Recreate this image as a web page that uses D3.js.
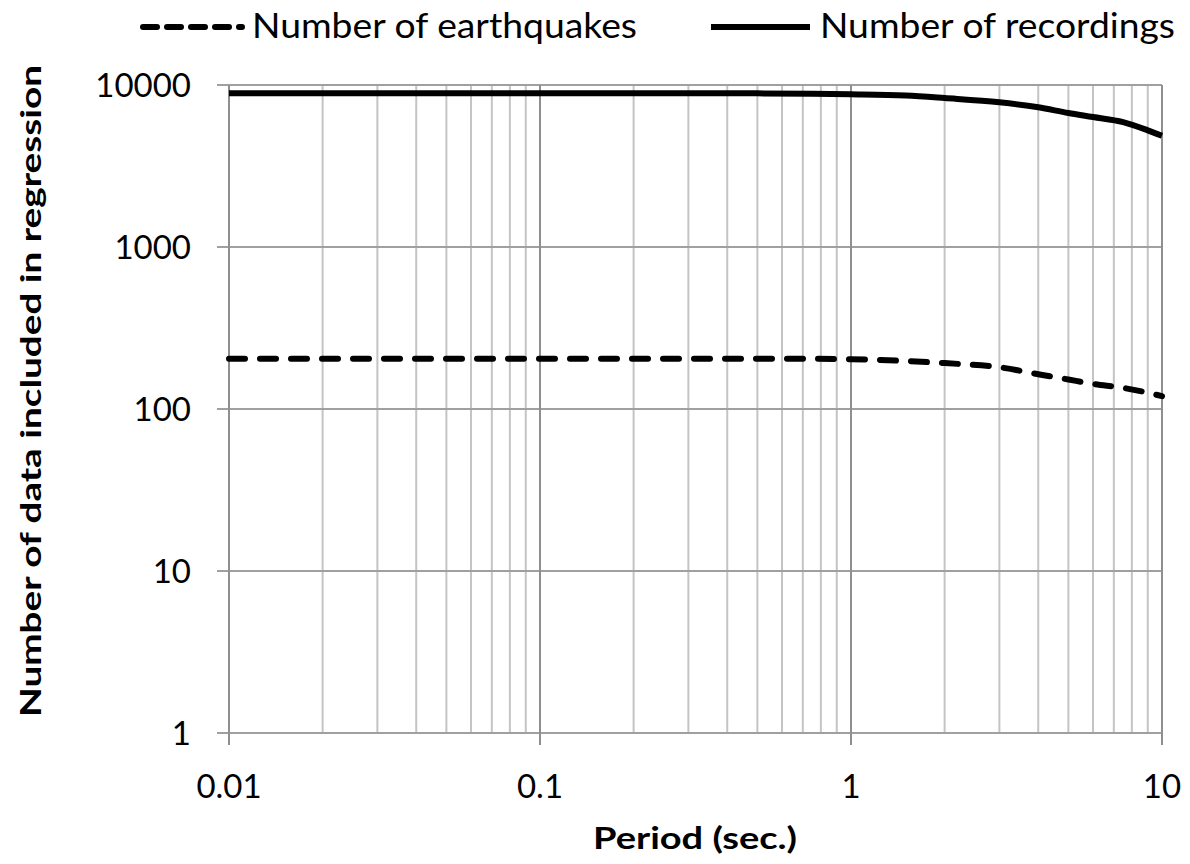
<!DOCTYPE html>
<html>
<head>
<meta charset="utf-8">
<script src="https://cdn.jsdelivr.net/npm/d3@7"></script>
<style>
  body { margin: 0; background: #fff; }
  svg { display: block; font-family: Lato, "Open Sans", sans-serif; }
</style>
</head>
<body>
<svg id="chart" width="1190" height="864"></svg>
<script>
//Periods (sec.)
const periods = [0.01, 0.02, 0.03, 0.05, 0.075, 0.1, 0.15, 0.2, 0.3, 0.4, 0.5, 0.75, 1, 1.5, 2, 3, 4, 5, 6, 7.5, 9, 10];
//Number of earthquakes per period
const earthquakes = [204, 204, 204, 204, 204, 204, 204, 204, 204, 204, 204, 204, 203, 198, 192, 181, 164, 152, 143, 135, 126, 120];
//Number of recordings per period
const recordings = [8900, 8900, 8900, 8900, 8900, 8900, 8900, 8900, 8900, 8900, 8880, 8840, 8770, 8600, 8300, 7820, 7280, 6710, 6340, 5900, 5250, 4860];
//Tick labels
const xTicks = [0.01, 0.1, 1, 10];
const yTicks = [1, 10, 100, 1000, 10000];

const svg = d3.select("#chart");

//plot box
const box = {left: 229, right: 1162, top: 85, bottom: 733};

const xScale = d3.scaleLog().domain([0.01, 10]).range([box.left, box.right]);
const yScale = d3.scaleLog().domain([1, 10000]).range([box.bottom, box.top]);

//minor vertical gridlines
const isMajor = v => xTicks.some(t => Math.abs(t - v) < 1e-9);
svg.append("g")
    .selectAll("line")
    .data(xScale.ticks().filter(v => !isMajor(v)))
    .join("line")
    .attr("x1", d => xScale(d)).attr("x2", d => xScale(d))
    .attr("y1", box.top).attr("y2", box.bottom)
    .attr("stroke", "#c4c4c4")
    .attr("stroke-width", 2);

//horizontal gridlines (decades)
svg.append("g")
    .selectAll("line")
    .data(yTicks)
    .join("line")
    .attr("x1", box.left - 12).attr("x2", box.right)
    .attr("y1", d => yScale(d)).attr("y2", d => yScale(d))
    .attr("stroke", "#a0a0a0")
    .attr("stroke-width", 2);

//major vertical gridlines
svg.append("g")
    .selectAll("line")
    .data(xTicks)
    .join("line")
    .attr("x1", d => xScale(d)).attr("x2", d => xScale(d))
    .attr("y1", box.top).attr("y2", box.bottom + 12)
    .attr("stroke", "#8f8f8f")
    .attr("stroke-width", 2);

//y tick labels
svg.append("g")
    .selectAll("text")
    .data(yTicks)
    .join("text")
    .attr("x", 191)
    .attr("y", d => yScale(d) + 12)
    .attr("text-anchor", "end")
    .attr("font-size", 33)
    .text(d => d);

//x tick labels
svg.append("g")
    .selectAll("text")
    .data(xTicks)
    .join("text")
    .attr("x", d => xScale(d))
    .attr("y", 798)
    .attr("text-anchor", "middle")
    .attr("font-size", 33)
    .text(d => d);

//axis titles
svg.append("text")
    .attr("x", 695).attr("y", 849)
    .attr("text-anchor", "middle")
    .attr("font-size", 30)
    .attr("font-weight", "bold")
    .attr("textLength", 204)
    .attr("lengthAdjust", "spacingAndGlyphs")
    .text("Period (sec.)");

svg.append("text")
    .attr("transform", "translate(41,391) rotate(-90)")
    .attr("text-anchor", "middle")
    .attr("font-size", 29)
    .attr("font-weight", "bold")
    .attr("textLength", 652)
    .attr("lengthAdjust", "spacingAndGlyphs")
    .text("Number of data included in regression");

//lines
const line = values => d3.line()
    .x((d, i) => xScale(periods[i]))
    .y(d => yScale(d))
    .curve(d3.curveMonotoneX)(values);

svg.append("path")
    .attr("d", line(recordings))
    .attr("fill", "none")
    .attr("stroke", "#000")
    .attr("stroke-width", 6);

svg.append("path")
    .attr("d", line(earthquakes))
    .attr("fill", "none")
    .attr("stroke", "#000")
    .attr("stroke-width", 6)
    .attr("stroke-linecap", "round")
    .attr("stroke-dasharray", "16,15");

//legend
const legend = [
    {name: "Number of earthquakes", dash: "14,10", x: 140, w: 385},
    {name: "Number of recordings", dash: null, x: 708, w: 355}
];
const lg = svg.append("g").selectAll("g").data(legend).join("g")
    .attr("transform", d => "translate(" + d.x + ",27)");
lg.append("line")
    .attr("x1", 3).attr("x2", 102)
    .attr("stroke", "#000")
    .attr("stroke-width", 6)
    .attr("stroke-linecap", d => d.dash ? "round" : "butt")
    .attr("stroke-dasharray", d => d.dash);
lg.append("text")
    .attr("x", 112).attr("y", 11)
    .attr("font-size", 34)
    .attr("textLength", d => d.w)
    .attr("lengthAdjust", "spacingAndGlyphs")
    .text(d => d.name);
</script>
</body>
</html>
